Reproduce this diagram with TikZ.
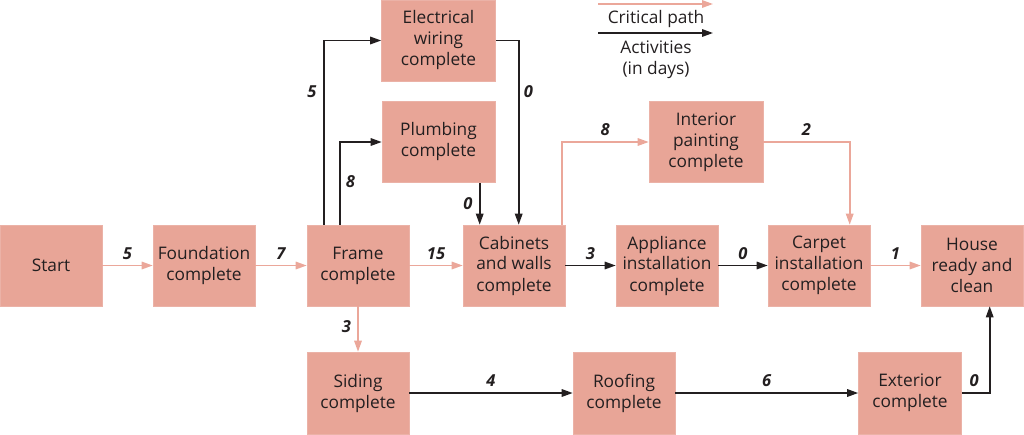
\documentclass[tikz,border=0pt]{standalone}
\usepackage{fontspec}
\setmainfont{Open Sans}
\usetikzlibrary{arrows.meta}
\definecolor{boxfill}{HTML}{E8A597}
\definecolor{critc}{HTML}{EBA79A}
\definecolor{darkc}{HTML}{231F20}
\tikzset{
  x=1pt,y=-1pt,
  box/.style={fill=boxfill,draw=boxfill!85!white,line width=0.6pt,minimum height=81pt,inner sep=0pt,align=center,font=\fontsize{17.3}{21}\selectfont,text=darkc},
  crit/.style={draw=critc,line width=1.6pt,-{Triangle[length=11pt,width=7.5pt]}},
  blk/.style={draw=darkc,line width=1.6pt,-{Triangle[length=11pt,width=7.5pt]}},
  lab/.style={font=\fontsize{16.5}{18}\selectfont\bfseries\itshape,text=darkc},
  legtext/.style={font=\fontsize{17.3}{21}\selectfont,text=darkc,align=center}
}
\begin{document}
\begin{tikzpicture}
\useasboundingbox (0,0) rectangle (1024,434);
% nodes
\node[box,minimum width=102pt] (start) at (51,265.5) {Start};
\node[box,minimum width=102pt] (found) at (204,265.5) {Foundation\\complete};
\node[box,minimum width=102pt] (frame) at (358,265.5) {Frame\\complete};
\node[box,minimum width=102pt] (cab) at (514,265.5) {Cabinets\\and walls\\complete};
\node[box,minimum width=102pt] (appl) at (667,265.5) {Appliance\\installation\\complete};
\node[box,minimum width=102pt] (carpet) at (819,265.5) {Carpet\\installation\\complete};
\node[box,minimum width=102pt] (house) at (972,265.5) {House\\ready and\\clean};
\node[box,minimum width=114pt] (elec) at (438.5,40.5) {Electrical\\wiring\\complete};
\node[box,minimum width=113pt] (plumb) at (438.5,142) {Plumbing\\complete};
\node[box,minimum width=114pt] (inter) at (706,142) {Interior\\painting\\complete};
\node[box,minimum width=102pt,minimum height=82pt] (siding) at (358,393) {Siding\\complete};
\node[box,minimum width=102pt,minimum height=82pt] (roof) at (624,393) {Roofing\\complete};
\node[box,minimum width=103pt,minimum height=82pt] (ext) at (910,393) {Exterior\\complete};
% helper coordinates
\coordinate (fr1) at ([xshift=17pt]frame.north west);
\coordinate (fr2) at ([xshift=33pt]frame.north west);
\coordinate (cb1) at ([xshift=17pt]cab.north west);
\coordinate (cb2) at ([xshift=56pt]cab.north west);
\coordinate (cb3) at ([xshift=99pt]cab.north west);
\coordinate (cp1) at ([xshift=82pt]carpet.north west);
\coordinate (hs1) at ([xshift=69pt]house.south west);
% critical path
\draw[crit] (start) -- node[lab,above=2pt]{5} (found);
\draw[crit] (found) -- node[lab,above=2pt]{7} (frame);
\draw[crit] (frame) -- node[lab,above=2pt]{15} (cab);
\draw[crit] (frame) -- node[lab,left=3pt,pos=0.45]{3} (siding);
\draw[crit] (cb3) |- node[lab,above=2pt,pos=0.75]{8} (inter.west);
\draw[crit] (inter.east) -| node[lab,above=2pt,pos=0.25]{2} (cp1);
\draw[crit] (carpet) -- node[lab,above=2pt]{1} (house);
% other activities
\draw[blk] (fr1) |- node[lab,left=3pt,pos=0.361]{5} (elec.west);
\draw[blk] (fr2) |- node[lab,right=2pt,pos=0.26]{8} (plumb.west);
\draw[blk] (elec.east) -| node[lab,right=1pt,pos=0.64]{0} (cb2);
\draw[blk] (cb1 |- plumb.south) -- node[lab,left=3pt]{0} (cb1);
\draw[blk] (cab) -- node[lab,above=2pt]{3} (appl);
\draw[blk] (appl) -- node[lab,above=2pt]{0} (carpet);
\draw[blk] (siding) -- node[lab,above=2pt]{4} (roof);
\draw[blk] (roof) -- node[lab,above=2pt]{6} (ext);
\draw[blk] (ext.east) -| node[lab,above=2pt,pos=0.22]{0} (hs1);
% legend
\coordinate (l1a) at (598,4);
\coordinate (l1b) at (713,4);
\coordinate (l2a) at (598,33);
\coordinate (l2b) at (713,33);
\draw[crit] (l1a) -- (l1b);
\draw[blk] (l2a) -- (l2b);
\node[legtext] (lt1) at (656,19) {Critical path};
\node[legtext] (lt2) at (656,59.5) {Activities\\(in days)};
\end{tikzpicture}
\end{document}
